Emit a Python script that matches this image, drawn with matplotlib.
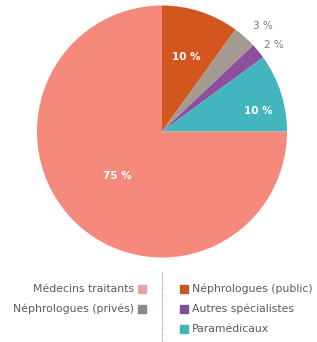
import matplotlib
matplotlib.use("Agg")
import matplotlib.pyplot as plt
from matplotlib.patches import Rectangle
import numpy as np

categories = ["Néphrologues (public)", "Néphrologues (privés)", "Autres spécialistes",
              "Paramédicaux", "Médecins traitants"]
values = [10, 3, 2, 10, 75]
labels = ["10 %", "3 %", "2 %", "10 %", "75 %"]
colors = ["#d4561f", "#a39a92", "#8c4f9c", "#42b5bf", "#f5897b"]
legend_colors = {"Médecins traitants": "#e8a3a3", "Néphrologues (privés)": "#8f8782",
                 "Néphrologues (public)": "#c8561f", "Autres spécialistes": "#7d4f98",
                 "Paramédicaux": "#45b1b8"}

FONT = ["Liberation Sans Narrow", "DejaVu Sans"]

W, H = 317, 342
fig = plt.figure(figsize=(W / 100, H / 100), dpi=100)
fig.patch.set_facecolor("white")

cx, cy, rx, ry = 162, 131.5, 125, 126
ax = fig.add_axes([(cx - rx) / W, 1 - (cy + ry) / H, 2 * rx / W, 2 * ry / H])
wedges, _ = ax.pie(values, colors=colors, startangle=90, counterclock=False,
                   wedgeprops=dict(linewidth=0))
ax.set_xlim(-1, 1)
ax.set_ylim(-1, 1)
ax.set_aspect("auto")
ax.axis("off")

label_r = [0.62, 1.16, 1.13, 0.79, 0.5]
label_shift = [0, -2.5, -2, -6, 0]
cum = np.cumsum([0] + values)
for i, (v, lab) in enumerate(zip(values, labels)):
    mid = 90 - 360 * (cum[i] + v / 2) / 100 + label_shift[i]
    ang = np.deg2rad(mid)
    rr = label_r[i]
    inside = rr < 1
    ax.text(rr * np.cos(ang), rr * np.sin(ang), lab, ha="center", va="center",
            color="white" if inside else "#7a7a7a", fontsize=7.5,
            fontweight="bold" if inside else "normal", family=FONT)

# legend
left_items = ["Médecins traitants", "Néphrologues (privés)"]
right_items = ["Néphrologues (public)", "Autres spécialistes", "Paramédicaux"]
rows_y = [289, 309, 329]
sq = 8
for name, y in zip(left_items, rows_y):
    fig.text(134 / W, 1 - y / H, name, ha="right", va="center", fontsize=7.8,
             color="#5a5a5a", family=FONT)
    fig.patches.append(Rectangle((138 / W, 1 - (y + sq / 2) / H), sq / W, sq / H,
                                 transform=fig.transFigure, color=legend_colors[name]))
for name, y in zip(right_items, rows_y):
    fig.patches.append(Rectangle((180 / W, 1 - (y + sq / 2) / H), sq / W, sq / H,
                                 transform=fig.transFigure, color=legend_colors[name]))
    fig.text(192 / W, 1 - y / H, name, ha="left", va="center", fontsize=7.8,
             color="#5a5a5a", family=FONT)

fig.add_artist(plt.Line2D([162 / W, 162 / W], [1 - 272 / H, 0], transform=fig.transFigure,
                          color="#999999", linewidth=0.8, linestyle=(0, (1, 1))))

fig.savefig("out.png", dpi=100)
